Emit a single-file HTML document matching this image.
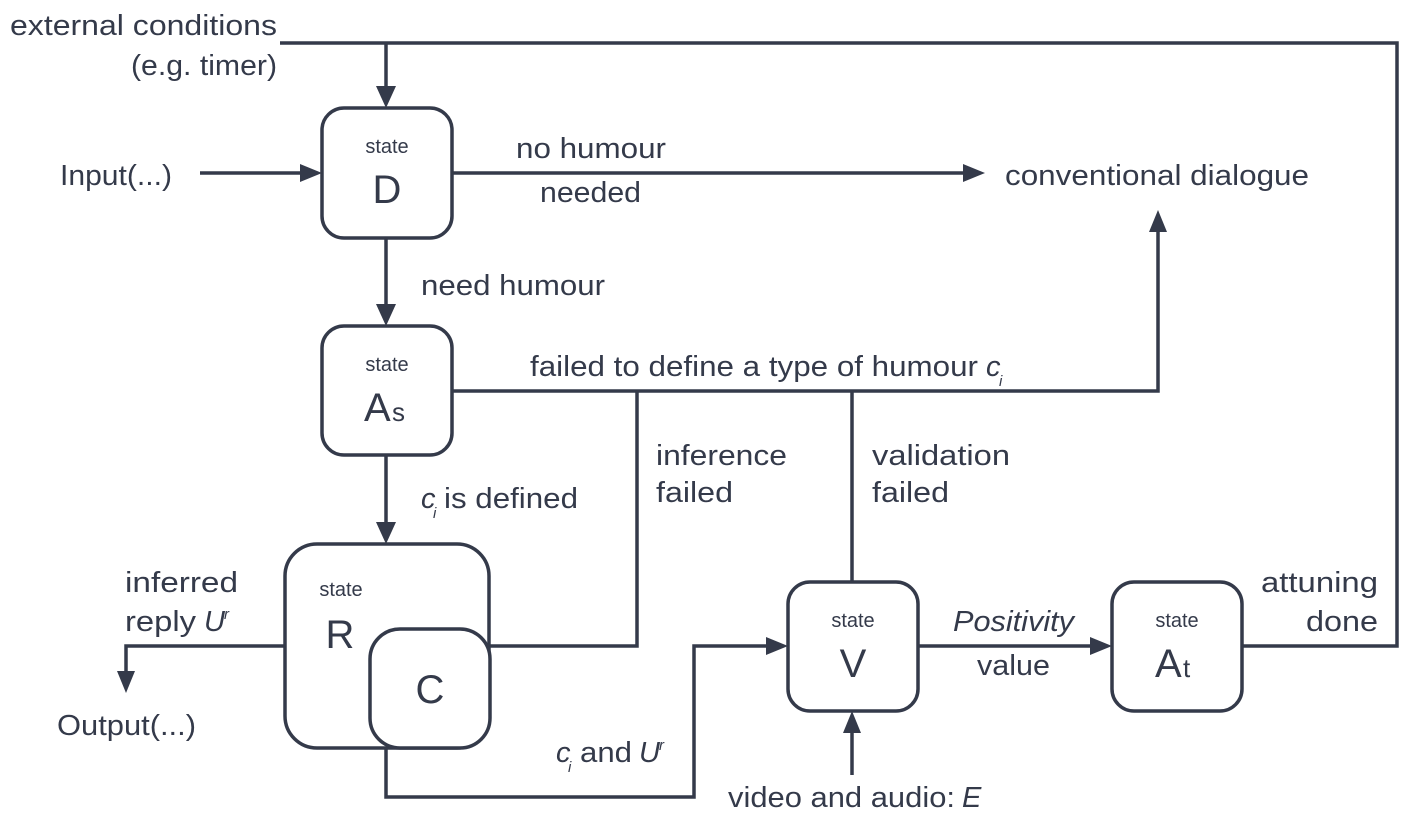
<!DOCTYPE html>
<html><head><meta charset="utf-8"><style>
html,body{margin:0;padding:0;background:#fff;}
svg{display:block;}
text{font-family:"Liberation Sans",sans-serif;fill:#343a4a;}
</style></head><body>
<svg width="1418" height="828" viewBox="0 0 1418 828" xmlns="http://www.w3.org/2000/svg">
<g fill="none" stroke="#343a4a" stroke-width="3.5" stroke-linejoin="miter">
<rect x="322" y="108" width="130" height="130" rx="22"/>
<rect x="322" y="326" width="130" height="129" rx="22"/>
<rect x="285" y="544" width="204" height="204" rx="32"/>
<rect x="370" y="629" width="120" height="119" rx="30" fill="#fff"/>
<rect x="788" y="582" width="130" height="129" rx="22"/>
<rect x="1112" y="582" width="130" height="129" rx="22"/>
<polyline points="280,43 1397,43 1397,646 1242,646"/>
<line x1="386" y1="43" x2="386" y2="88"/>
<line x1="200" y1="173" x2="302" y2="173"/>
<line x1="452" y1="173" x2="965" y2="173"/>
<line x1="386" y1="238" x2="386" y2="306"/>
<polyline points="452,391 1158,391 1158,230"/>
<line x1="386" y1="455" x2="386" y2="524"/>
<polyline points="489,646 637,646 637,391"/>
<line x1="852" y1="582" x2="852" y2="391"/>
<polyline points="386,748 386,797 694,797 694,646 768,646"/>
<line x1="918" y1="646" x2="1092" y2="646"/>
<line x1="852" y1="775" x2="852" y2="731"/>
<polyline points="285,646 126,646 126,673"/>
</g>
<g fill="#343a4a">
<polygon points="376,86 396,86 386,108"/>
<polygon points="300,164 300,182 322,173"/>
<polygon points="963,164 963,182 985,173"/>
<polygon points="376,304 396,304 386,326"/>
<polygon points="1149,232 1167,232 1158,210"/>
<polygon points="376,522 396,522 386,544"/>
<polygon points="766,637 766,655 788,646"/>
<polygon points="1090,637 1090,655 1112,646"/>
<polygon points="843,733 861,733 852,711"/>
<polygon points="117,671 135,671 126,693"/>
</g>
<g font-size="29" lengthAdjust="spacingAndGlyphs">
<text x="277" y="35" text-anchor="end" textLength="267" lengthAdjust="spacingAndGlyphs">external conditions</text>
<text x="277" y="75" text-anchor="end" textLength="146" lengthAdjust="spacingAndGlyphs">(e.g. timer)</text>
<text x="60" y="185" textLength="112" lengthAdjust="spacingAndGlyphs">Input(...)</text>
<text x="516" y="158" textLength="150" lengthAdjust="spacingAndGlyphs">no humour</text>
<text x="540" y="202" textLength="101" lengthAdjust="spacingAndGlyphs">needed</text>
<text x="1005" y="185" textLength="304" lengthAdjust="spacingAndGlyphs">conventional dialogue</text>
<text x="421" y="295" textLength="184" lengthAdjust="spacingAndGlyphs">need humour</text>
<text x="530" y="376" textLength="448" lengthAdjust="spacingAndGlyphs">failed to define a type of humour</text>
<text x="986" y="376" font-style="italic">c</text><text x="999" y="386" font-size="15" font-style="italic">i</text>
<text x="656" y="465" textLength="131" lengthAdjust="spacingAndGlyphs">inference</text>
<text x="656" y="502" textLength="77" lengthAdjust="spacingAndGlyphs">failed</text>
<text x="872" y="465" textLength="138" lengthAdjust="spacingAndGlyphs">validation</text>
<text x="872" y="502" textLength="77" lengthAdjust="spacingAndGlyphs">failed</text>
<text x="421" y="508" font-style="italic">c</text><text x="433" y="518" font-size="15" font-style="italic">i</text>
<text x="444" y="508" textLength="134" lengthAdjust="spacingAndGlyphs">is defined</text>
<text x="125" y="592" textLength="113" lengthAdjust="spacingAndGlyphs">inferred</text>
<text x="125" y="631" textLength="71" lengthAdjust="spacingAndGlyphs">reply</text><text x="204" y="631" font-style="italic">U</text><text x="224" y="619" font-size="15" font-style="italic">r</text>
<text x="57" y="735" textLength="139" lengthAdjust="spacingAndGlyphs">Output(...)</text>
<text x="556" y="762" font-style="italic">c</text><text x="568" y="772" font-size="15" font-style="italic">i</text>
<text x="580" y="762" textLength="52" lengthAdjust="spacingAndGlyphs">and</text><text x="639" y="762" font-style="italic">U</text><text x="659" y="750" font-size="15" font-style="italic">r</text>
<text x="728" y="807" textLength="227" lengthAdjust="spacingAndGlyphs">video and audio:</text><text x="962" y="807" font-style="italic">E</text>
<text x="953" y="631" font-style="italic" textLength="121" lengthAdjust="spacingAndGlyphs">Positivity</text>
<text x="977" y="675" textLength="73" lengthAdjust="spacingAndGlyphs">value</text>
<text x="1378" y="592" text-anchor="end" textLength="117" lengthAdjust="spacingAndGlyphs">attuning</text>
<text x="1378" y="631" text-anchor="end" textLength="72" lengthAdjust="spacingAndGlyphs">done</text>
</g>
<g font-size="20" text-anchor="middle">
<text x="387" y="153">state</text>
<text x="387" y="371">state</text>
<text x="341" y="596">state</text>
<text x="853" y="627">state</text>
<text x="1177" y="627">state</text>
</g>
<g font-size="40">
<text x="387" y="203" text-anchor="middle">D</text>
<text x="364" y="421">A</text><text x="392" y="421" font-size="26">s</text>
<text x="340" y="648" text-anchor="middle">R</text>
<text x="430" y="703" text-anchor="middle">C</text>
<text x="853" y="677" text-anchor="middle">V</text>
<text x="1155" y="677">A</text><text x="1183" y="677" font-size="26">t</text>
</g>
</svg>
</body></html>
